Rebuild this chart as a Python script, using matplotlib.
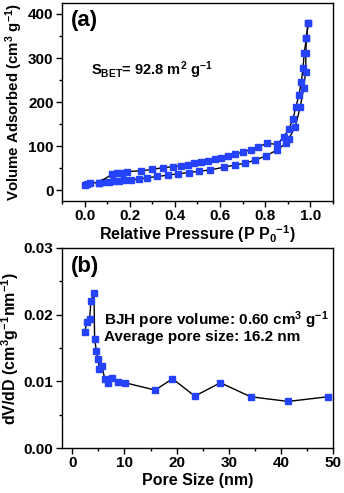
import numpy as np
import matplotlib
matplotlib.use("Agg")
import matplotlib.pyplot as plt
from matplotlib.ticker import MultipleLocator

plt.rcParams['font.family'] = ['Liberation Sans', 'DejaVu Sans']
plt.rcParams['font.weight'] = 'bold'
plt.rcParams['axes.labelweight'] = 'bold'
plt.rcParams['mathtext.default'] = 'regular'

# isotherm, adsorption branch
ads_p = [0.0, 0.01, 0.025, 0.062, 0.085, 0.107, 0.13, 0.152, 0.174, 0.204, 0.241, 0.278,
         0.323, 0.368, 0.412, 0.464, 0.509, 0.557, 0.616, 0.665, 0.71, 0.755, 0.804,
         0.852, 0.893, 0.905, 0.933, 0.955, 0.97, 0.979, 0.98, 0.982, 0.99]
ads_v = [12, 14, 16, 17, 18, 19, 20, 21, 22, 23, 25, 28, 31, 34, 37, 40, 43, 46, 52, 57,
         61, 68, 78, 91, 107, 117, 144, 189, 231, 269, 312, 345, 379]
# desorption branch
des_p = [0.99, 0.982, 0.973, 0.967, 0.96, 0.949, 0.936, 0.923, 0.905, 0.881, 0.852, 0.807,
         0.767, 0.735, 0.70, 0.667, 0.637, 0.605, 0.576, 0.546, 0.516, 0.486, 0.457,
         0.427, 0.39, 0.346, 0.30, 0.249, 0.189, 0.167, 0.144, 0.122, 0.062]
des_v = [379, 345, 312, 277, 246, 216, 189, 162, 139, 120, 104, 106, 98, 92, 86, 82, 78,
         74, 71, 67, 64, 61, 58, 55, 53, 51, 47, 44, 42, 40, 38, 36, 17]

# BJH pore size distribution
pore_d = [2.36, 2.8, 3.3, 3.57, 4.15, 4.27, 4.6, 4.9, 5.2, 5.7, 6.2, 6.8, 7.7, 8.7, 10.1,
          15.9, 19.2, 23.5, 28.4, 34.2, 41.4, 49.0]
dvdd = [0.0174, 0.0189, 0.0193, 0.0220, 0.0233, 0.0164, 0.0146, 0.0134, 0.0119, 0.0123,
        0.0104, 0.0098, 0.0105, 0.0099, 0.0098, 0.0087, 0.0104, 0.0078, 0.0098, 0.0077,
        0.0070, 0.0077]

blue = '#2543ff'
mk = dict(marker='s', markersize=5, color='black', lw=1,
          markerfacecolor=blue, markeredgecolor=blue)

fig = plt.figure(figsize=(3.44, 4.93), dpi=100)
ax1 = fig.add_axes([0.180, 0.592, 0.788, 0.402])
ax2 = fig.add_axes([0.180, 0.091, 0.788, 0.406])

ax1.plot(ads_p, ads_v, **mk)
ax1.plot(des_p, des_v, **mk)
ax1.set_xlim(-0.1, 1.1)
ax1.set_ylim(-25, 425)
ax1.xaxis.set_major_locator(MultipleLocator(0.2))
ax1.xaxis.set_minor_locator(MultipleLocator(0.1))
ax1.yaxis.set_major_locator(MultipleLocator(100))
ax1.yaxis.set_minor_locator(MultipleLocator(50))
ax1.set_xlabel('Relative Pressure (P P$_0$$^{-1}$)', fontsize=11.5, labelpad=0)
ax1.set_ylabel('Volume Adsorbed (cm$^3$ g$^{-1}$)', fontsize=10.8, labelpad=2)
ax1.text(0.033, 0.914, '(a)', transform=ax1.transAxes, fontsize=16,
         fontweight='bold', ha='left', va='center')
ax1.text(0.03, 273, 'S$_{BET}$= 92.8 m$^2$ g$^{-1}$', fontsize=10.5,
         fontweight='bold', ha='left', va='center')

ax2.plot(pore_d, dvdd, **mk)
ax2.set_xlim(-2, 50)
ax2.set_ylim(0, 0.03)
ax2.xaxis.set_major_locator(MultipleLocator(10))
ax2.xaxis.set_minor_locator(MultipleLocator(5))
ax2.yaxis.set_major_locator(MultipleLocator(0.01))
ax2.yaxis.set_minor_locator(MultipleLocator(0.005))
ax2.yaxis.set_major_formatter(matplotlib.ticker.FormatStrFormatter('%.2f'))
ax2.set_xlabel('Pore Size (nm)', fontsize=11.5, labelpad=2)
ax2.set_ylabel('dV/dD (cm$^3$g$^{-1}$nm$^{-1}$)', fontsize=11.5, labelpad=2)
ax2.text(0.033, 0.907, '(b)', transform=ax2.transAxes, fontsize=16,
         fontweight='bold', ha='left', va='center')
ax2.text(6.1, 0.0192, 'BJH pore volume: 0.60 cm$^3$ g$^{-1}$', fontsize=11,
         fontweight='bold', ha='left', va='center')
ax2.text(6.1, 0.0166, 'Average pore size: 16.2 nm', fontsize=11,
         fontweight='bold', ha='left', va='center')

for ax in (ax1, ax2):
    ax.tick_params(which='major', direction='out', length=4, width=1,
                   labelsize=11, pad=2, top=False, right=False)
    ax.tick_params(which='minor', direction='out', length=2.5, width=1,
                   top=False, right=False)
    for s in ax.spines.values():
        s.set_linewidth(1)
    for lab in ax.get_xticklabels() + ax.get_yticklabels():
        lab.set_fontweight('bold')

fig.savefig('out.png', dpi=100)
